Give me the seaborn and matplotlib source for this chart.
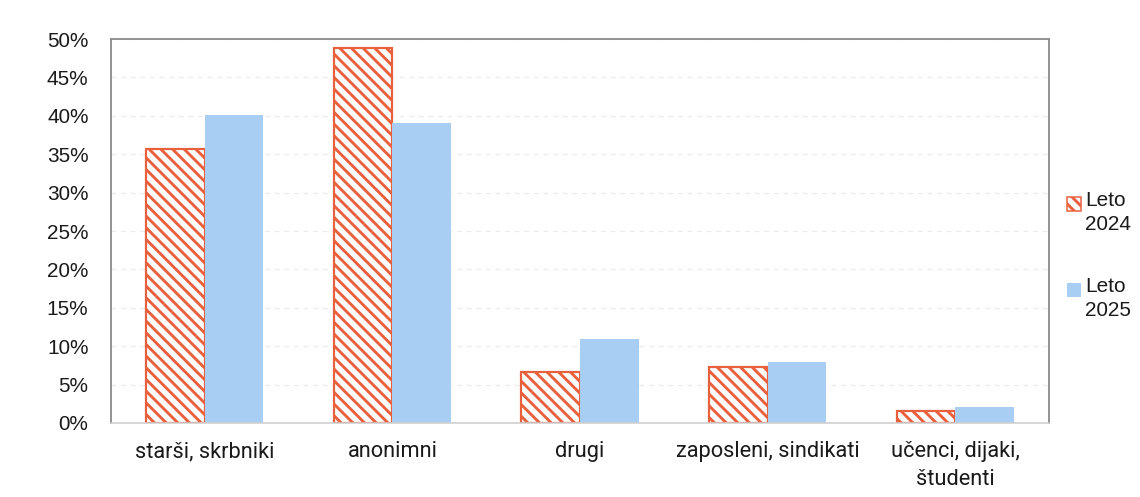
import matplotlib
matplotlib.use("Agg")
import matplotlib.pyplot as plt
import seaborn as sns
import pandas as pd
from matplotlib.ticker import FuncFormatter, MultipleLocator
from matplotlib.patches import Rectangle
from matplotlib import font_manager as fm

categories = ["starši, skrbniki", "anonimni", "drugi", "zaposleni, sindikati", "učenci, dijaki,\nštudenti"]
series_names = ["Leto\n2024", "Leto\n2025"]
values_2024 = [35.7, 48.8, 6.7, 7.3, 1.6]
values_2025 = [40.1, 39.1, 11.0, 7.9, 2.1]

df = pd.DataFrame({
    "kategorija": categories * 2,
    "leto": [series_names[0]] * len(categories) + [series_names[1]] * len(categories),
    "delez": values_2024 + values_2025,
})

W, H = 1140, 497
DPI = 140
HATCH = chr(92) * 4  # downward diagonal, ~11.7 px stripe period at this dpi


def px(v):
    """pixels -> points at the chosen dpi"""
    return v * 72.0 / DPI


sns.set_theme(style="white")
names = {f.name for f in fm.fontManager.ttflist}
narrow = "Liberation Sans Narrow" if "Liberation Sans Narrow" in names else "Roboto"
plt.rcParams["font.family"] = ["Liberation Sans", "DejaVu Sans"]
plt.rcParams["hatch.linewidth"] = px(2.9)

red = "#E8603C"
blue = "#A8CEF4"
txt = "#1a1a1a"

fig = plt.figure(figsize=(W / DPI, H / DPI), dpi=DPI)
ax = fig.add_axes([111 / W, 1 - 423 / H, (1049 - 111) / W, (423 - 39) / H])

sns.barplot(data=df, x="kategorija", y="delez", hue="leto", order=categories,
            hue_order=series_names, palette=[red, blue], width=0.625, gap=0,
            saturation=1, ax=ax, legend=False)

for bar in ax.containers[0]:
    bar.set_facecolor("white")
    bar.set_edgecolor(red)
    bar.set_hatch(HATCH)
    bar.set_linewidth(px(2.2))
for bar in ax.containers[1]:
    bar.set_edgecolor("none")

ax.set_ylim(0, 50)
ax.yaxis.set_major_locator(MultipleLocator(5))
ax.yaxis.set_major_formatter(FuncFormatter(lambda v, p: f"{v:.0f}%"))
ax.set_xlabel("")
ax.set_ylabel("")
ax.grid(axis="y", color="#ebebeb", linewidth=px(1.2), linestyle=(0, (4, 4)))
ax.set_axisbelow(True)
for s in ["left", "top", "right"]:
    ax.spines[s].set_color("#8a8a8a")
    ax.spines[s].set_linewidth(px(1.8))
ax.spines["bottom"].set_color("#cfcfcf")
ax.spines["bottom"].set_linewidth(px(1.6))
ax.tick_params(axis="y", length=0, pad=px(22.5), labelsize=px(20.8), labelcolor=txt)
ax.tick_params(axis="x", length=0, pad=px(18), labelsize=px(21.7), labelcolor=txt)
for t in ax.get_xticklabels():
    t.set_fontfamily([narrow, "DejaVu Sans"])
    t.set_linespacing(1.43)

# legend drawn to the right of the plot, with the swatch beside the first line
legend_specs = [
    (series_names[0], 197, 191, dict(facecolor="white", edgecolor=red, hatch=HATCH, linewidth=px(1.5))),
    (series_names[1], 283, 277.5, dict(facecolor=blue, edgecolor="none")),
]
for label, sy, ty, style in legend_specs:
    fig.add_artist(Rectangle((1067 / W, 1 - (sy + 14) / H), 14 / W, 14 / H,
                             transform=fig.transFigure, **style))
    fig.text(1085 / W, 1 - ty / H, label, ha="left", va="top",
             fontsize=px(20.8), color=txt, linespacing=1.30)

fig.savefig("out.png", dpi=DPI)
